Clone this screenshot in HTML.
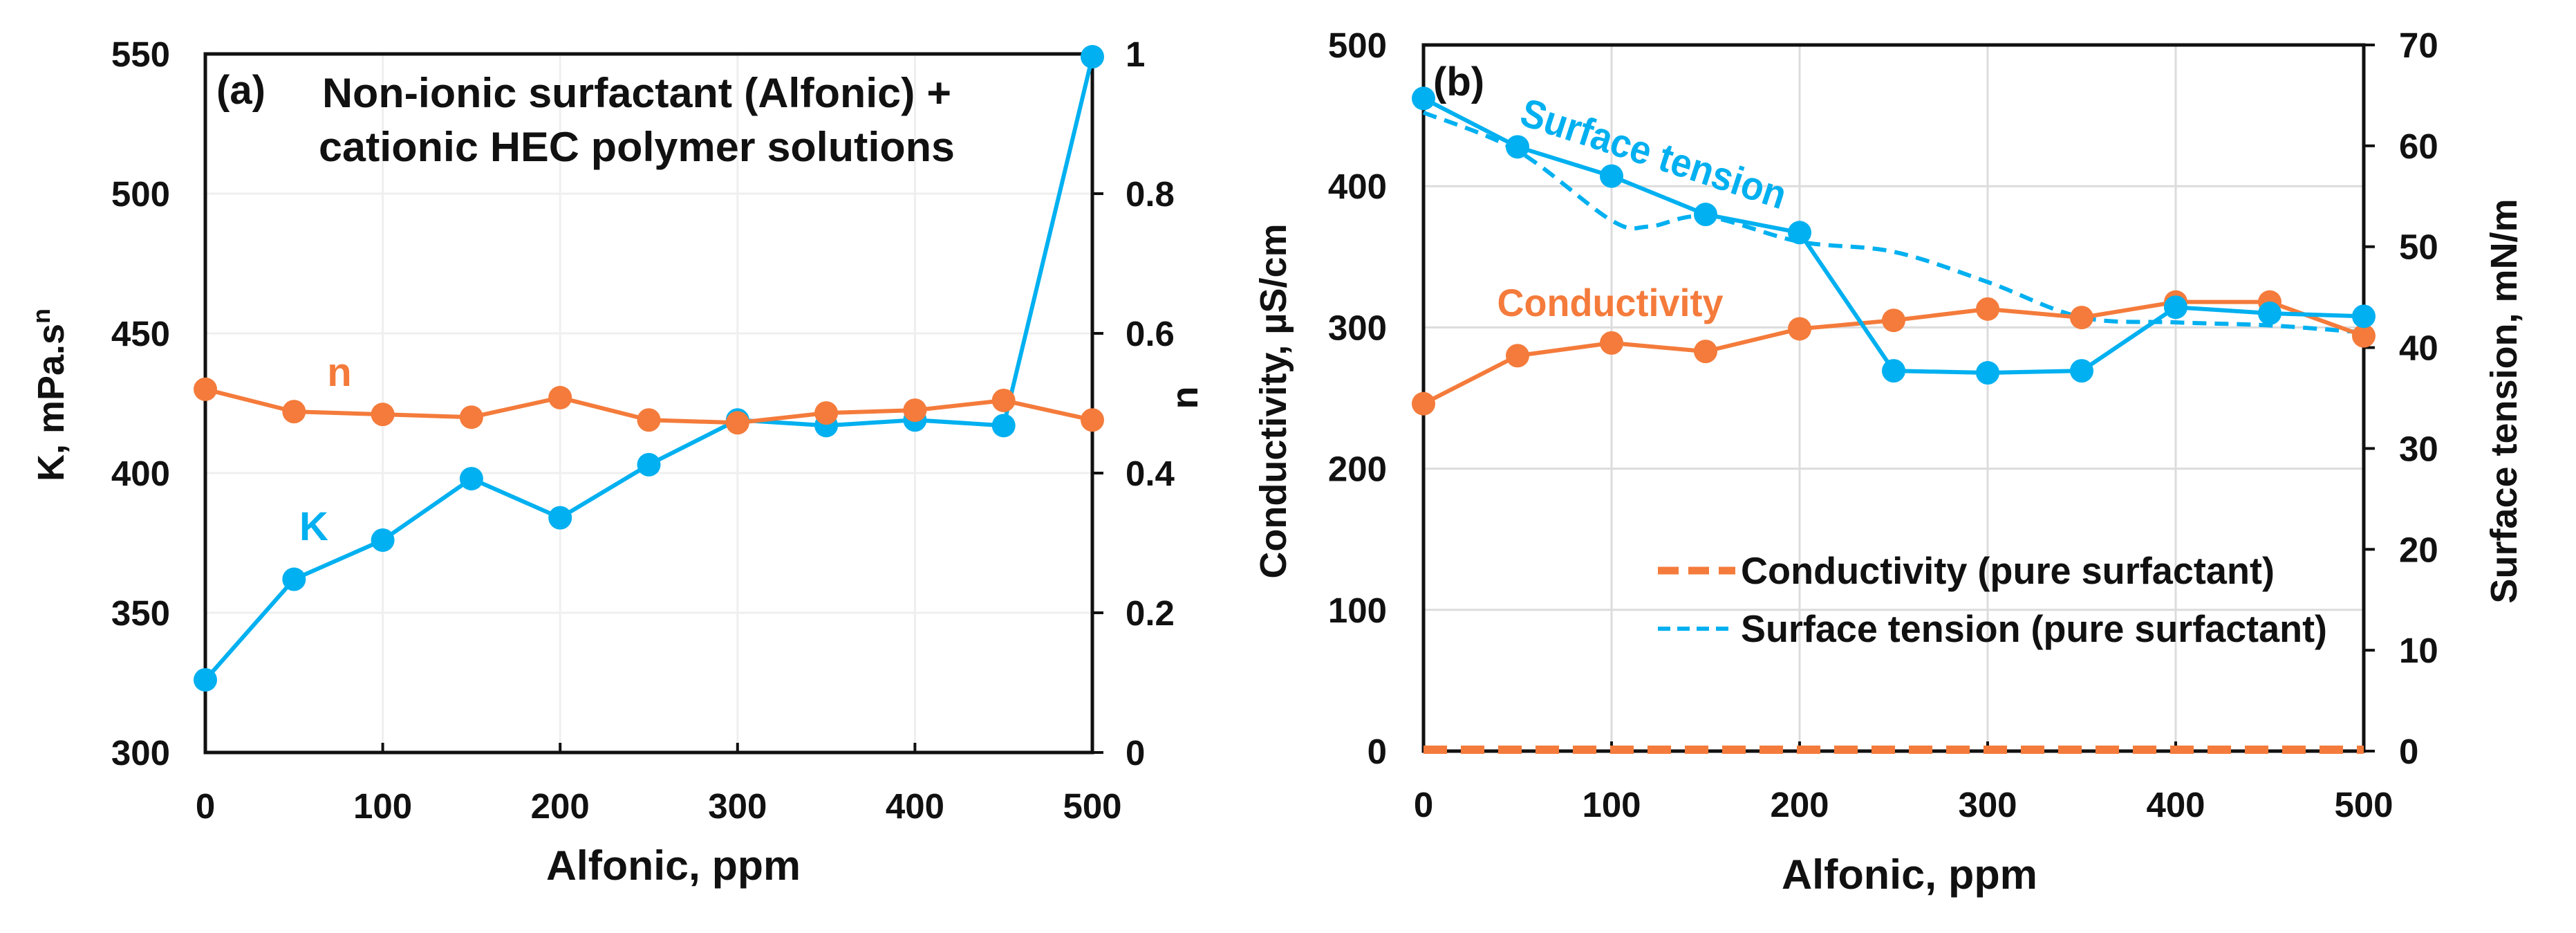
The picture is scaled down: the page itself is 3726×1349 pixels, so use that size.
<!DOCTYPE html>
<html><head><meta charset="utf-8"><style>
html,body{margin:0;padding:0;background:#fff;}
svg{display:block;}
.t{font-family:"Liberation Sans Narrow","Liberation Sans",sans-serif;font-weight:bold;font-size:51px;fill:#111;}
</style></head><body>
<svg id="c" width="3726" height="1349" viewBox="0 0 3726 1349" xmlns="http://www.w3.org/2000/svg"></svg>
<script>
const xCats=[0,50,100,150,200,250,300,350,400,450,500];
const kVals=[326,362,376,398,384,403,419,417,419,417,549];
const nVals=[0.52,0.488,0.484,0.48,0.508,0.476,0.472,0.486,0.49,0.504,0.476];
const condVals=[246,280,289,283,299,305,313,307,318,318,294];
const stVals=[64.7,59.9,57,53.2,51.4,37.7,37.5,37.7,44,43.4,43.1];
const stPureX=[0,50,100,120,150,200,250,300,350,400,450,500];
const stPureVals=[63.3,59.5,52.6,52,53,50.5,49.5,46.5,43,42.5,42.2,41.5];
const condPureVals=[1,1,1,1,1,1,1,1,1,1,1];
const xTicks=[0,100,200,300,400,500];
const kTicks=[300,350,400,450,500,550];
const nTicks=[0,0.2,0.4,0.6,0.8,1];
const condTicks=[0,100,200,300,400,500];
const stTicks=[0,10,20,30,40,50,60,70];
const BLUE='#00B0F0',ORANGE='#F47B3B';
const svg=document.getElementById('c');
const NS='http://www.w3.org/2000/svg';
function mk(tag,at,txt){const e=document.createElementNS(NS,tag);for(const k in at)e.setAttribute(k,at[k]);if(txt!==undefined)e.textContent=txt;svg.appendChild(e);return e;}
function lin(d0,d1,r0,r1){return v=>r0+(v-d0)/(d1-d0)*(r1-r0);}

function panel(P){
  const x=lin(0,500,P.l,P.r);
  const yL=lin(P.yl[0],P.yl[1],P.b,P.t);
  const yR=lin(P.yr[0],P.yr[1],P.b,P.t);
  xTicks.forEach(v=>{const g=mk('line',{x1:x(v),x2:x(v),y1:P.t,y2:P.b,stroke:P.grid,'stroke-width':3});
    });
  P.lt.forEach(v=>{const g=mk('line',{x1:P.l,x2:P.r,y1:yL(v),y2:yL(v),stroke:P.grid,'stroke-width':3});
    });
  const f=mk('rect',{x:P.l,y:P.t,width:P.r-P.l,height:P.b-P.t,fill:'none',stroke:'#111','stroke-width':5});
  
  xTicks.forEach(v=>{mk('line',{x1:x(v),x2:x(v),y1:P.b,y2:P.b-14,stroke:'#111','stroke-width':4});
    const t=mk('text',{x:x(v),y:P.b+95,'text-anchor':'middle',class:'t'},String(v));
    });
  P.lt.forEach(v=>{const t=mk('text',{x:P.ltx,y:yL(v)+18,'text-anchor':'end',class:'t'},String(v));
    });
  P.rt.forEach(v=>{mk('line',{x1:P.r,x2:P.r+16,y1:yR(v),y2:yR(v),stroke:'#111','stroke-width':4});
    const t=mk('text',{x:P.rtx,y:yR(v)+18,'text-anchor':'start',class:'t'},String(v));
    });
  return {x,yL,yR};
}
function series(xs,vals,xf,yf,color,name,markers,dash,w){
  const pts=xs.map((c,i)=>xf(c)+','+yf(vals[i])).join(' ');
  const pl=mk('polyline',{points:pts,fill:'none',stroke:color,'stroke-width':w||6,'stroke-linejoin':'round','stroke-dasharray':dash||'none'});
  
  if(markers)xs.forEach((c,i)=>{const m=mk('circle',{cx:xf(c),cy:yf(vals[i]),r:17,fill:color});
    });
}
function smooth(xs,vals,xf,yf,color,name,dash){
  const p=xs.map((c,i)=>[xf(c),yf(vals[i])]);
  let d='M'+p[0][0]+','+p[0][1];
  for(let i=0;i<p.length-1;i++){const p0=p[Math.max(i-1,0)],p1=p[i],p2=p[i+1],p3=p[Math.min(i+2,p.length-1)];
    d+=' C'+(p1[0]+(p2[0]-p0[0])/6)+','+(p1[1]+(p2[1]-p0[1])/6)+' '+(p2[0]-(p3[0]-p1[0])/6)+','+(p2[1]-(p3[1]-p1[1])/6)+' '+p2[0]+','+p2[1];}
  const e=mk('path',{d:d,fill:'none',stroke:color,'stroke-width':6,'stroke-dasharray':dash});
  
}
const A=panel({l:297,r:1580,t:78,b:1088,yl:[300,550],yr:[0,1],lt:kTicks,rt:nTicks,ltx:246,rtx:1628,grid:'#efefef'});
series(xCats,kVals,A.x,A.yL,BLUE,'k-series',true);
series(xCats,nVals,A.x,A.yR,ORANGE,'n-series',true);
const B=panel({l:2059,r:3419,t:65,b:1086,yl:[0,500],yr:[0,70],lt:condTicks,rt:stTicks,ltx:2006,rtx:3470,grid:'#dcdcdc'});
series(xCats,condPureVals,B.x,B.yL,ORANGE,'conductivity-pure',false,'34,20',12);
smooth(stPureX,stPureVals,B.x,B.yR,BLUE,'surface-tension-pure-line','20,12');
series(xCats,condVals,B.x,B.yL,ORANGE,'conductivity-series',true);
series(xCats,stVals,B.x,B.yR,BLUE,'surface-tension-series',true);
</script>
<svg style="position:absolute;left:0;top:0" width="3726" height="1349">
<g font-family="Liberation Sans Narrow, Liberation Sans, sans-serif" font-weight="bold">
<text x="313" y="150" font-size="58" fill="#111">(a)</text>
<text x="921" y="155" font-size="60" text-anchor="middle" textLength="910" lengthAdjust="spacingAndGlyphs" fill="#111">Non-ionic surfactant (Alfonic) +</text>
<text x="921" y="233" font-size="60" text-anchor="middle" textLength="920" lengthAdjust="spacingAndGlyphs" fill="#111">cationic HEC polymer solutions</text>
<text x="491" y="558" font-size="58" text-anchor="middle" fill="#F47B3B">n</text>
<text x="454" y="781" font-size="58" text-anchor="middle" fill="#00B0F0">K</text>
<text x="2073" y="138" font-size="58" fill="#111">(b)</text>
<text x="2392" y="242" font-size="58" text-anchor="middle" textLength="400" lengthAdjust="spacingAndGlyphs" fill="#00B0F0" transform="rotate(18 2392 222)">Surface tension</text>
<text x="2329" y="457" font-size="56" text-anchor="middle" textLength="327" lengthAdjust="spacingAndGlyphs" fill="#F47B3B">Conductivity</text>
<text x="2518" y="844" font-size="55" textLength="772" lengthAdjust="spacingAndGlyphs" fill="#111">Conductivity (pure surfactant)</text>
<text x="2518" y="928" font-size="55" textLength="848" lengthAdjust="spacingAndGlyphs" fill="#111">Surface tension (pure surfactant)</text>
</g>
<line x1="2398" y1="825" x2="2510" y2="825" stroke="#F47B3B" stroke-width="11" stroke-dasharray="30,14"/>
<line x1="2398" y1="909" x2="2510" y2="909" stroke="#00B0F0" stroke-width="6" stroke-dasharray="18,10"/>
<g font-family="Liberation Sans, sans-serif" font-weight="bold" font-size="54" fill="#111" text-anchor="middle">
<text x="974" y="1272" font-size="60" textLength="368" lengthAdjust="spacingAndGlyphs">Alfonic, ppm</text>
<text transform="translate(92 571) rotate(-90)">K, mPa.s<tspan dy="-20" font-size="36">n</tspan></text>
<text transform="translate(1732 575) rotate(-90)">n</text>
<text x="2762" y="1285" font-size="60" textLength="370" lengthAdjust="spacingAndGlyphs">Alfonic, ppm</text>
<text transform="translate(1860 580) rotate(-90)">Conductivity, µS/cm</text>
<text transform="translate(3640 580) rotate(-90)">Surface tension, mN/m</text>
</g>
</svg>
</body></html>
